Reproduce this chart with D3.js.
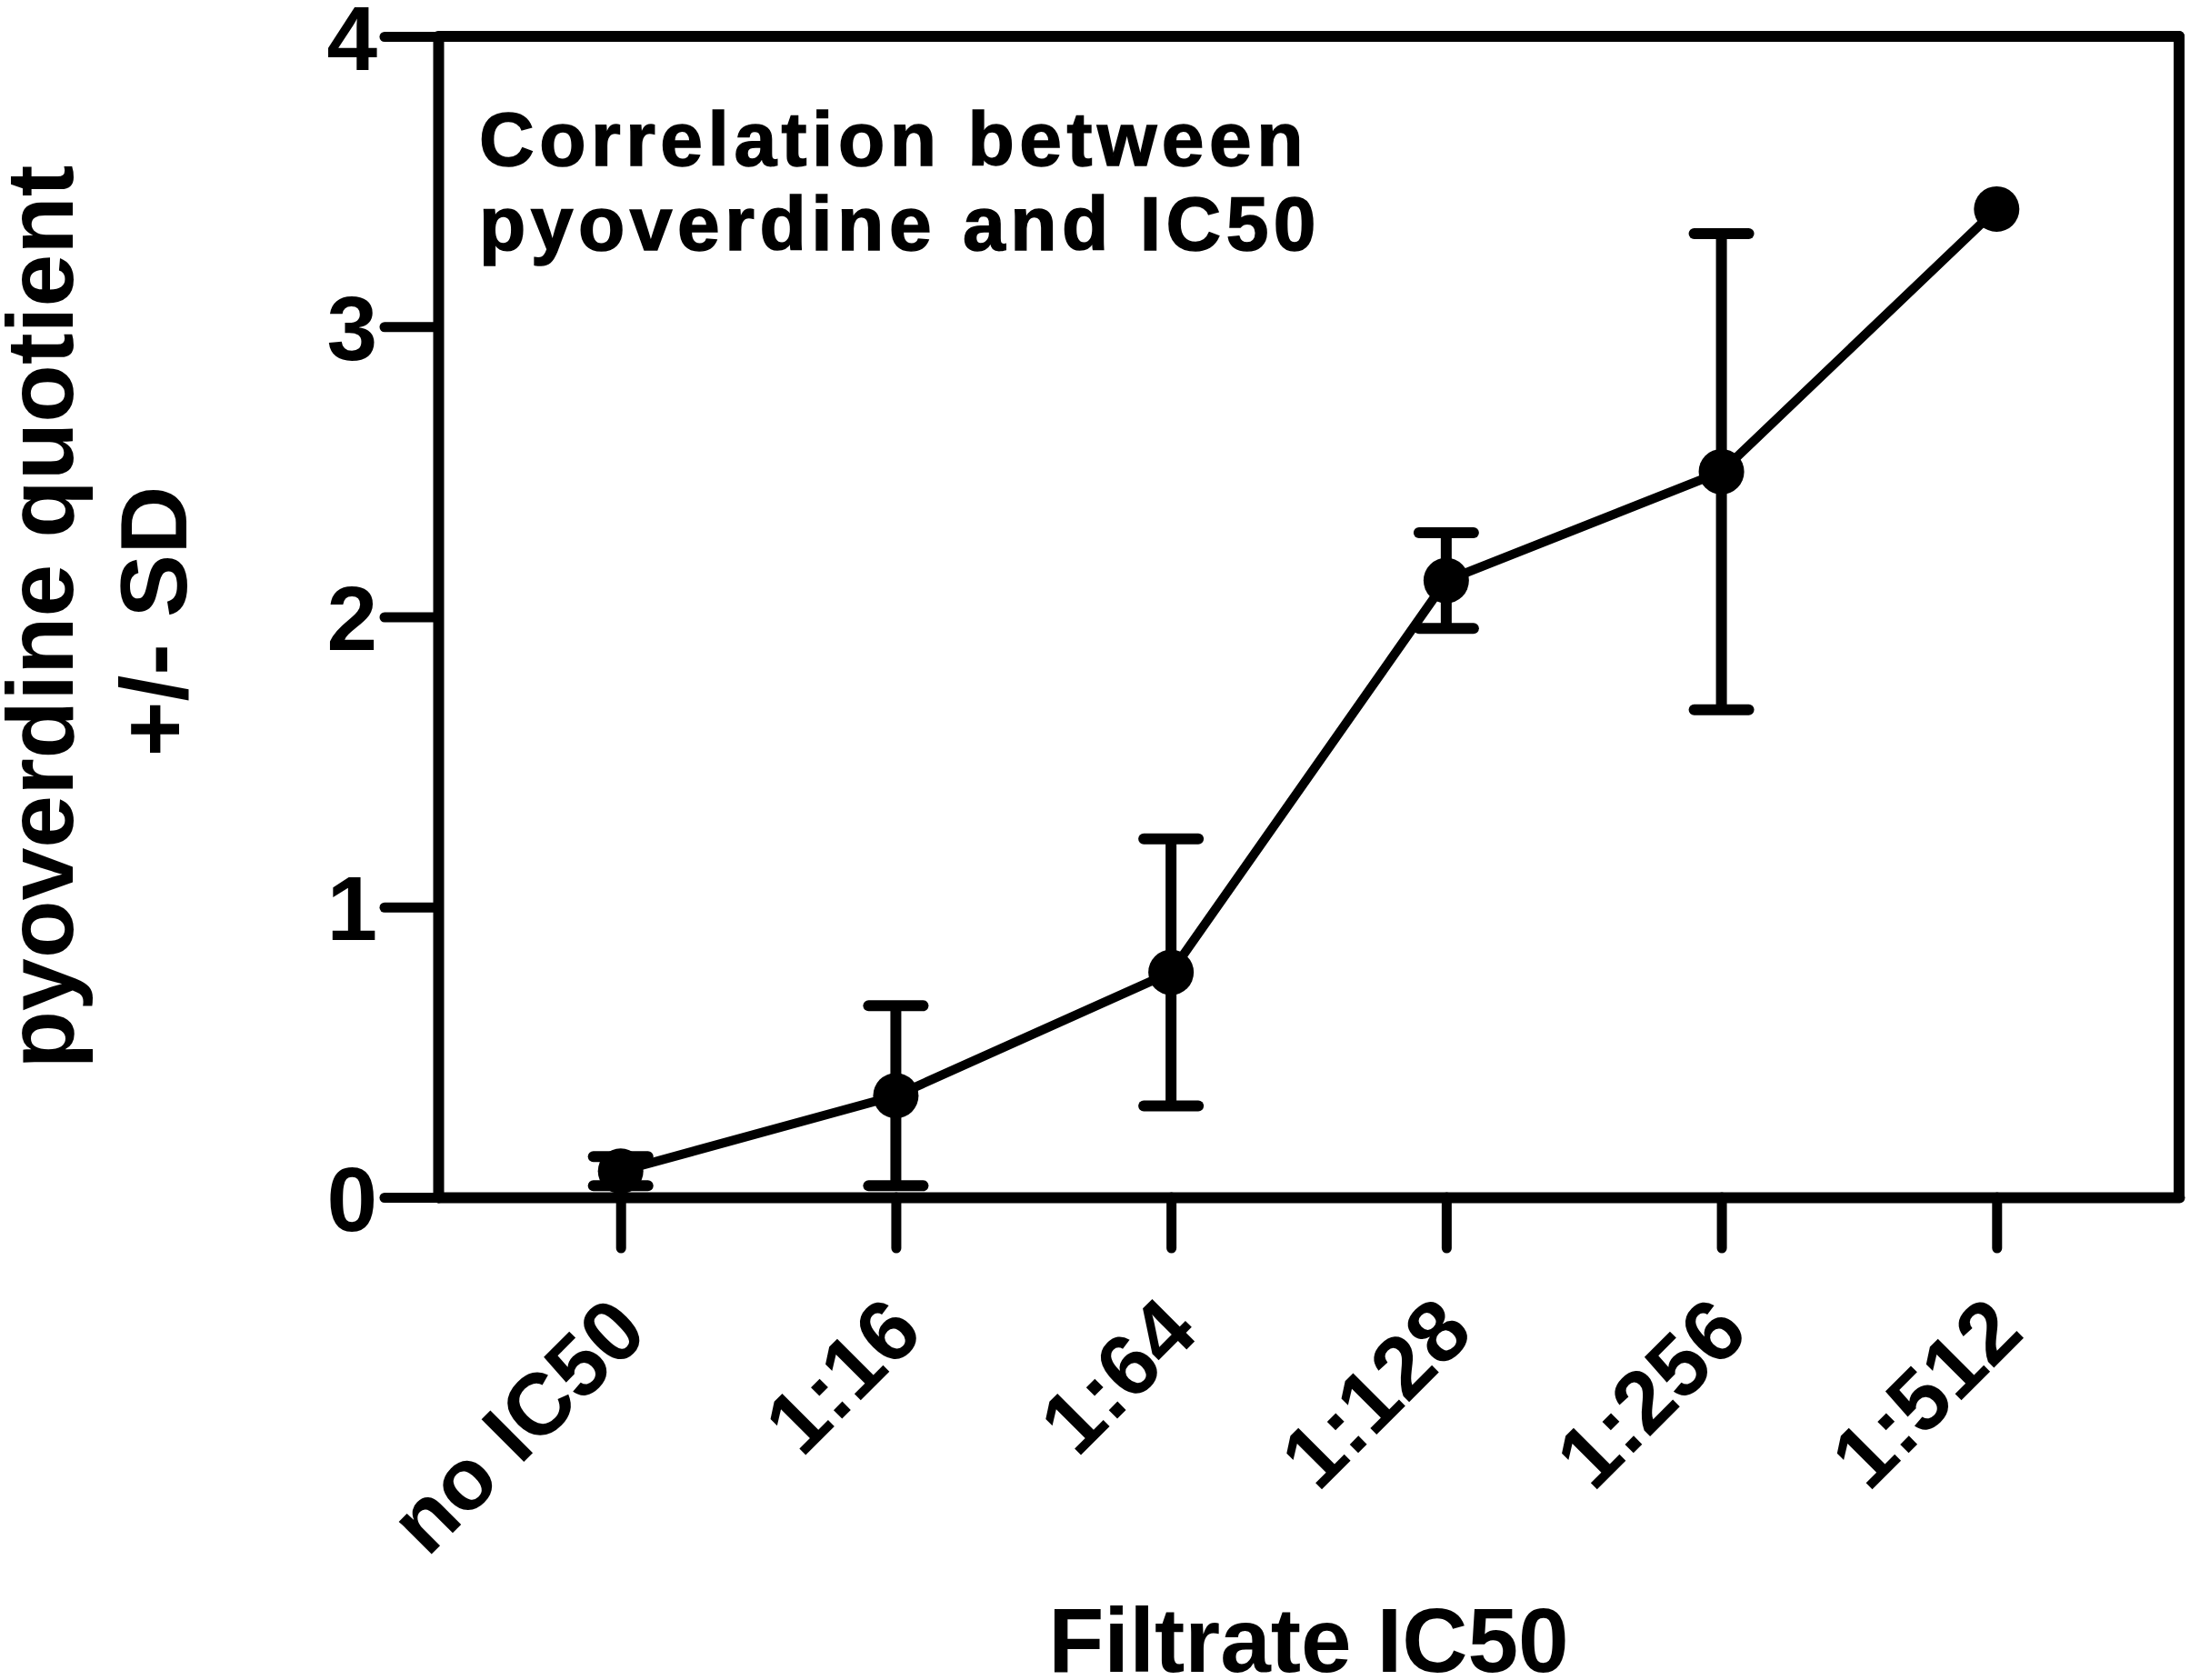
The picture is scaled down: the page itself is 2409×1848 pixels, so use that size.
<!DOCTYPE html>
<html>
<head>
<meta charset="utf-8">
<script src="https://cdn.jsdelivr.net/npm/d3@7"></script>
<style>
  html, body { margin: 0; padding: 0; background: #fff; }
  svg { display: block; }
  text { font-family: "Liberation Sans", Arial, sans-serif; font-weight: bold; fill: #000; }
</style>
</head>
<body>
<svg id="chart" width="2409" height="1848"></svg>
<script>
// ---- data ----
const categories = ["no IC50", "1:16", "1:64", "1:128", "1:256", "1:512"];
const means      = [0.09, 0.35, 0.775, 2.125, 2.50, 3.405];
const sds        = [0.05, 0.31, 0.46, 0.165, 0.82, 0.0];
const yTicks     = [0, 1, 2, 3, 4];
const yTitleLines = ["pyoverdine quotient", "+/- SD"];
const xTitle     = "Filtrate IC50";
const noteLines  = ["Correlation between", "pyoverdine and IC50"];

// ---- layout ----
const svg = d3.select("#chart");
const pL = 482, pR = 2397, pT = 40, pB = 1317;

const x = d3.scalePoint().domain(categories).range([pL, pR]).padding(0.663);
const y = d3.scaleLinear().domain([0, 4]).range([pB, pT]);

// frame: top and right lines
svg.append("line").attr("x1", pL).attr("x2", pR).attr("y1", pT).attr("y2", pT)
  .attr("stroke", "#000").attr("stroke-width", 12).attr("stroke-linecap", "round");
svg.append("line").attr("x1", pR).attr("x2", pR).attr("y1", pT).attr("y2", pB)
  .attr("stroke", "#000").attr("stroke-width", 12).attr("stroke-linecap", "round");

// y axis
const gy = svg.append("g").attr("transform", `translate(${pL},0)`)
  .call(d3.axisLeft(y).tickValues(yTicks).tickFormat(d3.format("d"))
        .tickSize(59).tickSizeOuter(0).tickPadding(8));
gy.select(".domain").attr("stroke-width", 12).attr("stroke-linecap", "round");
gy.selectAll(".tick line").attr("stroke-width", 11).attr("stroke-linecap", "round");
gy.selectAll(".tick text").attr("font-size", 100).attr("font-family", null).attr("dy", "0.36em");

// x axis
const gx = svg.append("g").attr("transform", `translate(0,${pB})`)
  .call(d3.axisBottom(x).tickSize(56).tickSizeOuter(0));
gx.select(".domain").attr("stroke-width", 12).attr("stroke-linecap", "round");
gx.selectAll(".tick line").attr("stroke-width", 11).attr("stroke-linecap", "round");
gx.selectAll(".tick text")
  .attr("font-size", 96).attr("font-family", null)
  .attr("text-anchor", "end")
  .attr("x", 0).attr("y", 0).attr("dy", 0)
  .attr("transform", "translate(32,152) rotate(-45)");

svg.selectAll(".domain").attr("stroke", "#000");
svg.selectAll(".tick line").attr("stroke", "#000");

const pts = categories.map((c, i) => ({ c, m: means[i], s: sds[i] }));

// connecting line
svg.append("path")
  .datum(pts)
  .attr("fill", "none").attr("stroke", "#000").attr("stroke-width", 10)
  .attr("stroke-linejoin", "round")
  .attr("d", d3.line().x(d => x(d.c)).y(d => y(d.m)));

// error bars
const eb = svg.append("g").selectAll("g").data(pts.filter(d => d.s > 0)).join("g");
eb.append("line")
  .attr("x1", d => x(d.c)).attr("x2", d => x(d.c))
  .attr("y1", d => y(d.m + d.s)).attr("y2", d => y(d.m - d.s))
  .attr("stroke", "#000").attr("stroke-width", 12);
eb.append("line")
  .attr("x1", d => x(d.c) - 30).attr("x2", d => x(d.c) + 30)
  .attr("y1", d => y(d.m + d.s)).attr("y2", d => y(d.m + d.s))
  .attr("stroke", "#000").attr("stroke-width", 12).attr("stroke-linecap", "round");
eb.append("line")
  .attr("x1", d => x(d.c) - 30).attr("x2", d => x(d.c) + 30)
  .attr("y1", d => y(d.m - d.s)).attr("y2", d => y(d.m - d.s))
  .attr("stroke", "#000").attr("stroke-width", 12).attr("stroke-linecap", "round");

// markers
svg.append("g").selectAll("circle").data(pts).join("circle")
  .attr("cx", d => x(d.c)).attr("cy", d => y(d.m)).attr("r", 25)
  .attr("fill", "#000");

// y title
const yt = svg.append("g");
yt.append("text").attr("transform", `translate(80,${(pT + pB) / 2}) rotate(-90)`)
  .attr("text-anchor", "middle").attr("font-size", 104).text(yTitleLines[0]);
yt.append("text").attr("transform", `translate(205,${(pT + pB) / 2 + 5}) rotate(-90)`)
  .attr("text-anchor", "middle").attr("font-size", 104).text(yTitleLines[1]);

// x title
svg.append("text").attr("x", (pL + pR) / 2).attr("y", 1839)
  .attr("text-anchor", "middle").attr("font-size", 100).text(xTitle);

// annotation
const note = svg.append("text").attr("font-size", 84).attr("letter-spacing", 5.5)
  .attr("stroke", "#000").attr("stroke-width", 1.5);
note.selectAll("tspan").data(noteLines).join("tspan")
  .attr("x", 527).attr("y", (d, i) => 182 + i * 93).text(d => d);
</script>
</body>
</html>
